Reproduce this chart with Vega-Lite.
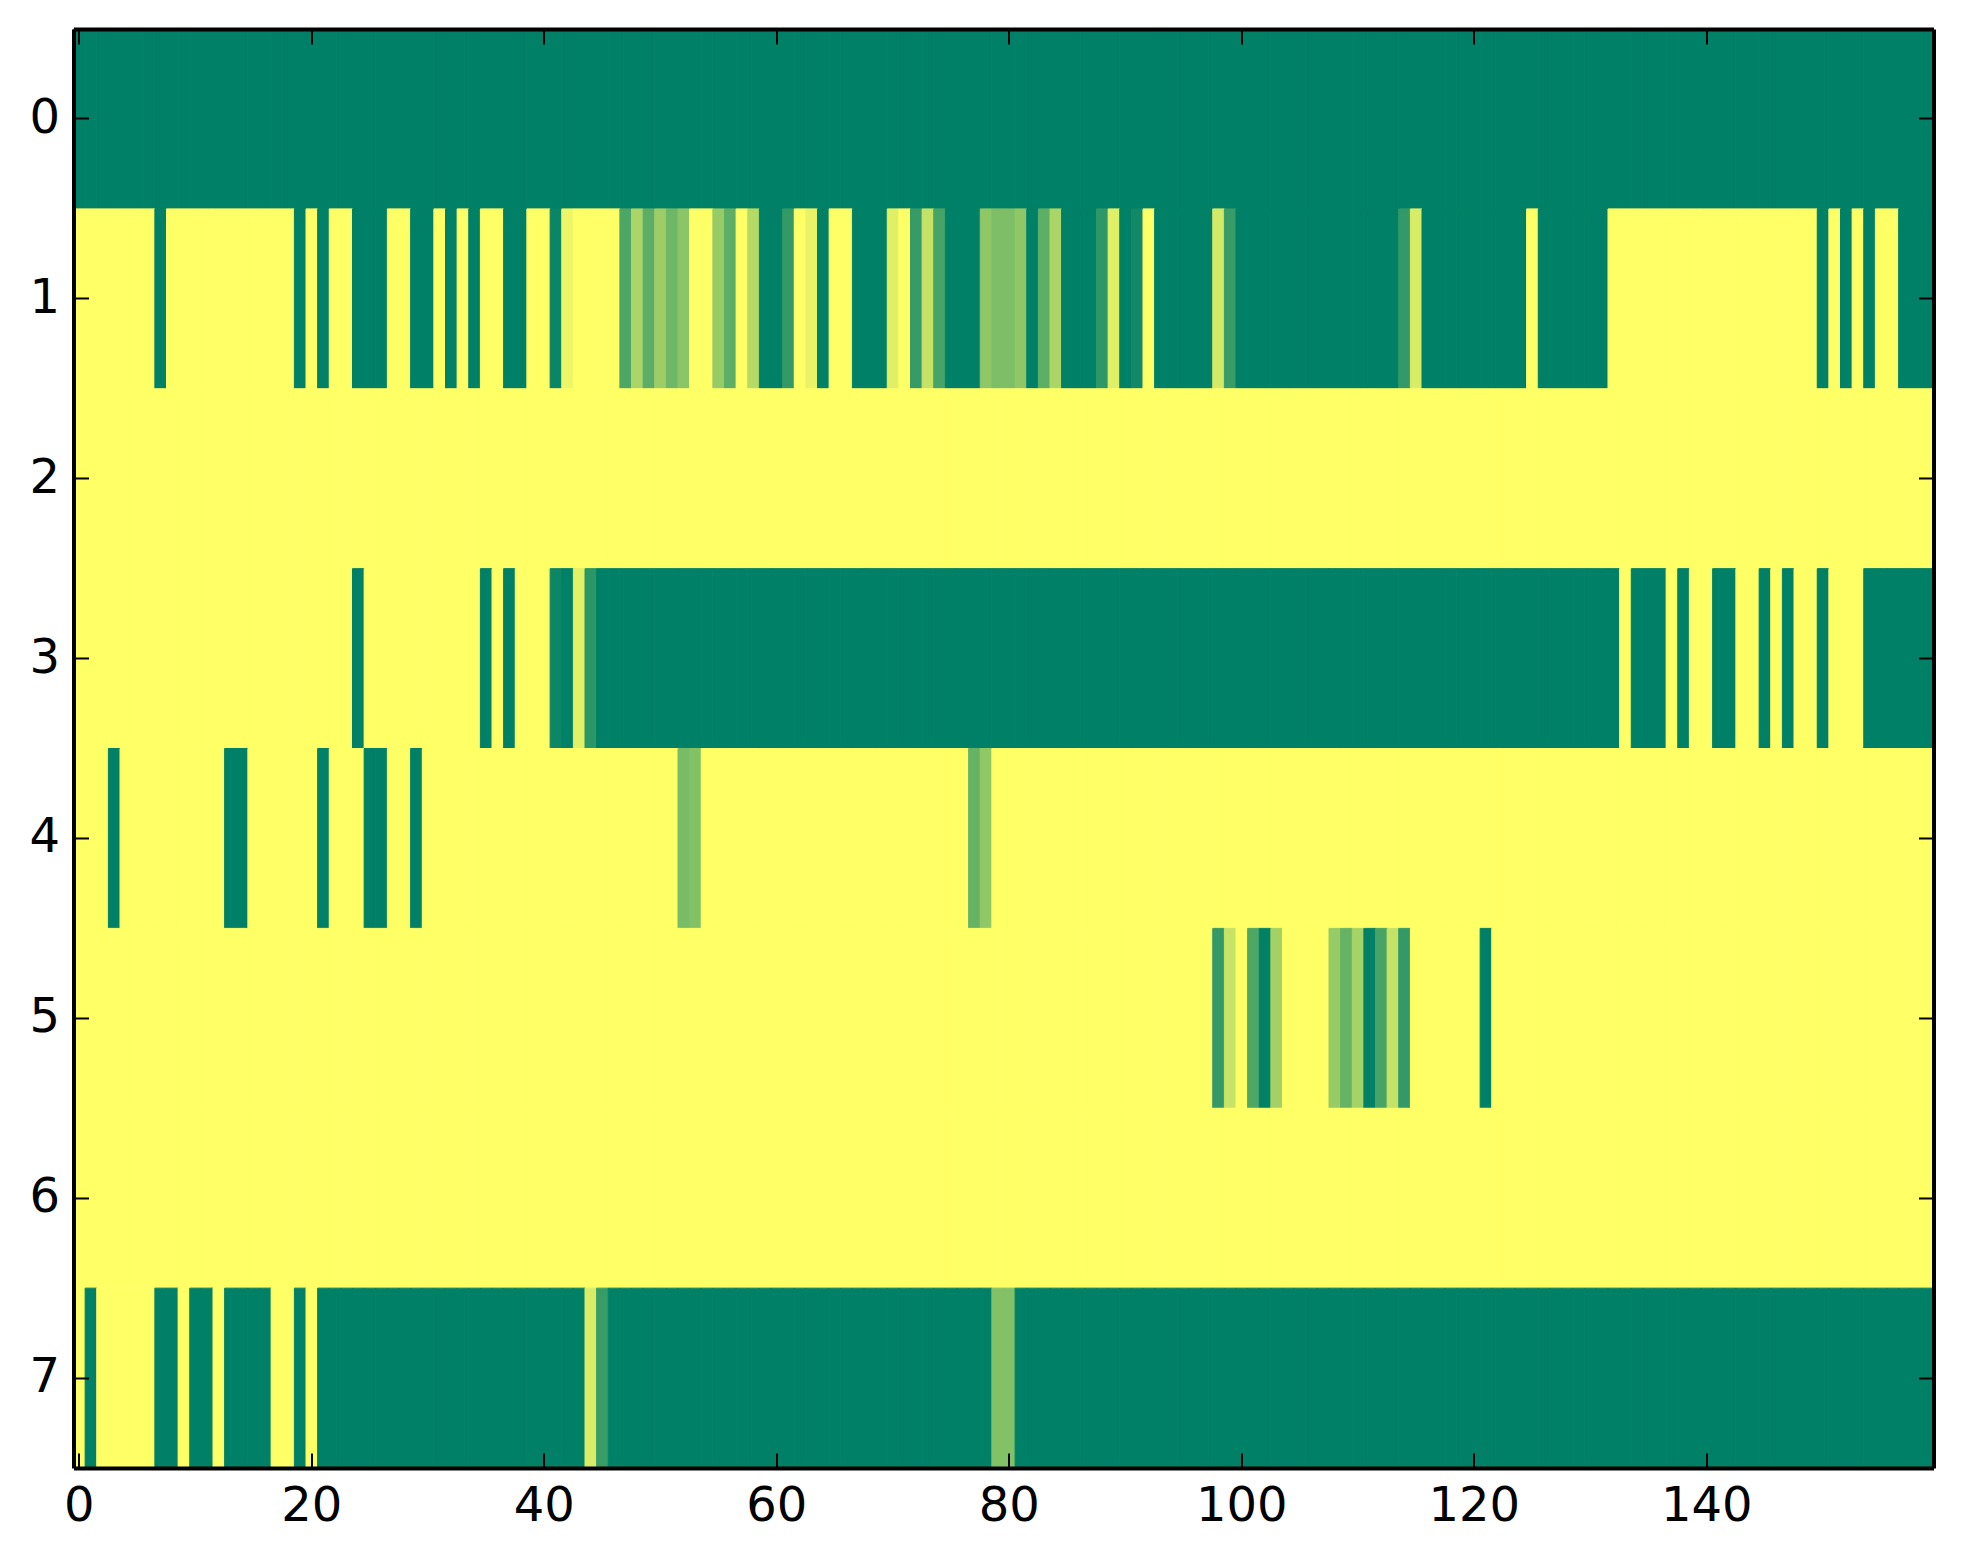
{
"$schema":"https://vega.github.io/schema/vega-lite/v6.json",
"width":1860,"height":1439,"background":"white",
"autosize":"none",
"padding":{"left":73.5,"top":29,"right":29.5,"bottom":96},
"data":{"values":[
{"x":0,"y":0,"v":1},{"x":1,"y":0,"v":1},{"x":2,"y":0,"v":1},{"x":3,"y":0,"v":1},{"x":4,"y":0,"v":1},{"x":5,"y":0,"v":1},{"x":6,"y":0,"v":1},{"x":7,"y":0,"v":1},{"x":8,"y":0,"v":1},{"x":9,"y":0,"v":1},
{"x":10,"y":0,"v":1},{"x":11,"y":0,"v":1},{"x":12,"y":0,"v":1},{"x":13,"y":0,"v":1},{"x":14,"y":0,"v":1},{"x":15,"y":0,"v":1},{"x":16,"y":0,"v":1},{"x":17,"y":0,"v":1},{"x":18,"y":0,"v":1},{"x":19,"y":0,"v":1},
{"x":20,"y":0,"v":1},{"x":21,"y":0,"v":1},{"x":22,"y":0,"v":1},{"x":23,"y":0,"v":1},{"x":24,"y":0,"v":1},{"x":25,"y":0,"v":1},{"x":26,"y":0,"v":1},{"x":27,"y":0,"v":1},{"x":28,"y":0,"v":1},{"x":29,"y":0,"v":1},
{"x":30,"y":0,"v":1},{"x":31,"y":0,"v":1},{"x":32,"y":0,"v":1},{"x":33,"y":0,"v":1},{"x":34,"y":0,"v":1},{"x":35,"y":0,"v":1},{"x":36,"y":0,"v":1},{"x":37,"y":0,"v":1},{"x":38,"y":0,"v":1},{"x":39,"y":0,"v":1},
{"x":40,"y":0,"v":1},{"x":41,"y":0,"v":1},{"x":42,"y":0,"v":1},{"x":43,"y":0,"v":1},{"x":44,"y":0,"v":1},{"x":45,"y":0,"v":1},{"x":46,"y":0,"v":1},{"x":47,"y":0,"v":1},{"x":48,"y":0,"v":1},{"x":49,"y":0,"v":1},
{"x":50,"y":0,"v":1},{"x":51,"y":0,"v":1},{"x":52,"y":0,"v":1},{"x":53,"y":0,"v":1},{"x":54,"y":0,"v":1},{"x":55,"y":0,"v":1},{"x":56,"y":0,"v":1},{"x":57,"y":0,"v":1},{"x":58,"y":0,"v":1},{"x":59,"y":0,"v":1},
{"x":60,"y":0,"v":1},{"x":61,"y":0,"v":1},{"x":62,"y":0,"v":1},{"x":63,"y":0,"v":1},{"x":64,"y":0,"v":1},{"x":65,"y":0,"v":1},{"x":66,"y":0,"v":1},{"x":67,"y":0,"v":1},{"x":68,"y":0,"v":1},{"x":69,"y":0,"v":1},
{"x":70,"y":0,"v":1},{"x":71,"y":0,"v":1},{"x":72,"y":0,"v":1},{"x":73,"y":0,"v":1},{"x":74,"y":0,"v":1},{"x":75,"y":0,"v":1},{"x":76,"y":0,"v":1},{"x":77,"y":0,"v":1},{"x":78,"y":0,"v":1},{"x":79,"y":0,"v":1},
{"x":80,"y":0,"v":1},{"x":81,"y":0,"v":1},{"x":82,"y":0,"v":1},{"x":83,"y":0,"v":1},{"x":84,"y":0,"v":1},{"x":85,"y":0,"v":1},{"x":86,"y":0,"v":1},{"x":87,"y":0,"v":1},{"x":88,"y":0,"v":1},{"x":89,"y":0,"v":1},
{"x":90,"y":0,"v":1},{"x":91,"y":0,"v":1},{"x":92,"y":0,"v":1},{"x":93,"y":0,"v":1},{"x":94,"y":0,"v":1},{"x":95,"y":0,"v":1},{"x":96,"y":0,"v":1},{"x":97,"y":0,"v":1},{"x":98,"y":0,"v":1},{"x":99,"y":0,"v":1},
{"x":100,"y":0,"v":1},{"x":101,"y":0,"v":1},{"x":102,"y":0,"v":1},{"x":103,"y":0,"v":1},{"x":104,"y":0,"v":1},{"x":105,"y":0,"v":1},{"x":106,"y":0,"v":1},{"x":107,"y":0,"v":1},{"x":108,"y":0,"v":1},{"x":109,"y":0,"v":1},
{"x":110,"y":0,"v":1},{"x":111,"y":0,"v":1},{"x":112,"y":0,"v":1},{"x":113,"y":0,"v":1},{"x":114,"y":0,"v":1},{"x":115,"y":0,"v":1},{"x":116,"y":0,"v":1},{"x":117,"y":0,"v":1},{"x":118,"y":0,"v":1},{"x":119,"y":0,"v":1},
{"x":120,"y":0,"v":1},{"x":121,"y":0,"v":1},{"x":122,"y":0,"v":1},{"x":123,"y":0,"v":1},{"x":124,"y":0,"v":1},{"x":125,"y":0,"v":1},{"x":126,"y":0,"v":1},{"x":127,"y":0,"v":1},{"x":128,"y":0,"v":1},{"x":129,"y":0,"v":1},
{"x":130,"y":0,"v":1},{"x":131,"y":0,"v":1},{"x":132,"y":0,"v":1},{"x":133,"y":0,"v":1},{"x":134,"y":0,"v":1},{"x":135,"y":0,"v":1},{"x":136,"y":0,"v":1},{"x":137,"y":0,"v":1},{"x":138,"y":0,"v":1},{"x":139,"y":0,"v":1},
{"x":140,"y":0,"v":1},{"x":141,"y":0,"v":1},{"x":142,"y":0,"v":1},{"x":143,"y":0,"v":1},{"x":144,"y":0,"v":1},{"x":145,"y":0,"v":1},{"x":146,"y":0,"v":1},{"x":147,"y":0,"v":1},{"x":148,"y":0,"v":1},{"x":149,"y":0,"v":1},
{"x":150,"y":0,"v":1},{"x":151,"y":0,"v":1},{"x":152,"y":0,"v":1},{"x":153,"y":0,"v":1},{"x":154,"y":0,"v":1},{"x":155,"y":0,"v":1},{"x":156,"y":0,"v":1},{"x":157,"y":0,"v":1},{"x":158,"y":0,"v":1},{"x":159,"y":0,"v":1},
{"x":0,"y":1,"v":0},{"x":1,"y":1,"v":0},{"x":2,"y":1,"v":0},{"x":3,"y":1,"v":0},{"x":4,"y":1,"v":0},{"x":5,"y":1,"v":0},{"x":6,"y":1,"v":0},{"x":7,"y":1,"v":1},{"x":8,"y":1,"v":0},{"x":9,"y":1,"v":0},
{"x":10,"y":1,"v":0},{"x":11,"y":1,"v":0},{"x":12,"y":1,"v":0},{"x":13,"y":1,"v":0},{"x":14,"y":1,"v":0},{"x":15,"y":1,"v":0},{"x":16,"y":1,"v":0},{"x":17,"y":1,"v":0},{"x":18,"y":1,"v":0},{"x":19,"y":1,"v":1},
{"x":20,"y":1,"v":0},{"x":21,"y":1,"v":1},{"x":22,"y":1,"v":0},{"x":23,"y":1,"v":0},{"x":24,"y":1,"v":1},{"x":25,"y":1,"v":1},{"x":26,"y":1,"v":1},{"x":27,"y":1,"v":0},{"x":28,"y":1,"v":0},{"x":29,"y":1,"v":1},
{"x":30,"y":1,"v":1},{"x":31,"y":1,"v":0},{"x":32,"y":1,"v":1},{"x":33,"y":1,"v":0},{"x":34,"y":1,"v":1},{"x":35,"y":1,"v":0},{"x":36,"y":1,"v":0},{"x":37,"y":1,"v":1},{"x":38,"y":1,"v":1},{"x":39,"y":1,"v":0},
{"x":40,"y":1,"v":0},{"x":41,"y":1,"v":0.96},{"x":42,"y":1,"v":0.07},{"x":43,"y":1,"v":0},{"x":44,"y":1,"v":0},{"x":45,"y":1,"v":0},{"x":46,"y":1,"v":0},{"x":47,"y":1,"v":0.7},{"x":48,"y":1,"v":0.33},{"x":49,"y":1,"v":0.64},
{"x":50,"y":1,"v":0.39},{"x":51,"y":1,"v":0.57},{"x":52,"y":1,"v":0.46},{"x":53,"y":1,"v":0},{"x":54,"y":1,"v":0},{"x":55,"y":1,"v":0.41},{"x":56,"y":1,"v":0.63},{"x":57,"y":1,"v":0},{"x":58,"y":1,"v":0.29},{"x":59,"y":1,"v":1},
{"x":60,"y":1,"v":1},{"x":61,"y":1,"v":0.8},{"x":62,"y":1,"v":0},{"x":63,"y":1,"v":0.09},{"x":64,"y":1,"v":1},{"x":65,"y":1,"v":0},{"x":66,"y":1,"v":0},{"x":67,"y":1,"v":1},{"x":68,"y":1,"v":1},{"x":69,"y":1,"v":1},
{"x":70,"y":1,"v":0.12},{"x":71,"y":1,"v":0},{"x":72,"y":1,"v":0.79},{"x":73,"y":1,"v":0.23},{"x":74,"y":1,"v":0.72},{"x":75,"y":1,"v":1},{"x":76,"y":1,"v":1},{"x":77,"y":1,"v":1},{"x":78,"y":1,"v":0.44},{"x":79,"y":1,"v":0.51},
{"x":80,"y":1,"v":0.51},{"x":81,"y":1,"v":0.44},{"x":82,"y":1,"v":1},{"x":83,"y":1,"v":0.63},{"x":84,"y":1,"v":0.33},{"x":85,"y":1,"v":1},{"x":86,"y":1,"v":1},{"x":87,"y":1,"v":1},{"x":88,"y":1,"v":0.82},{"x":89,"y":1,"v":0.12},
{"x":90,"y":1,"v":1},{"x":91,"y":1,"v":0.93},{"x":92,"y":1,"v":0},{"x":93,"y":1,"v":1},{"x":94,"y":1,"v":1},{"x":95,"y":1,"v":1},{"x":96,"y":1,"v":1},{"x":97,"y":1,"v":1},{"x":98,"y":1,"v":0.17},{"x":99,"y":1,"v":0.78},
{"x":100,"y":1,"v":1},{"x":101,"y":1,"v":1},{"x":102,"y":1,"v":1},{"x":103,"y":1,"v":1},{"x":104,"y":1,"v":1},{"x":105,"y":1,"v":1},{"x":106,"y":1,"v":1},{"x":107,"y":1,"v":1},{"x":108,"y":1,"v":1},{"x":109,"y":1,"v":1},
{"x":110,"y":1,"v":1},{"x":111,"y":1,"v":1},{"x":112,"y":1,"v":1},{"x":113,"y":1,"v":1},{"x":114,"y":1,"v":0.8},{"x":115,"y":1,"v":0.15},{"x":116,"y":1,"v":1},{"x":117,"y":1,"v":1},{"x":118,"y":1,"v":1},{"x":119,"y":1,"v":1},
{"x":120,"y":1,"v":1},{"x":121,"y":1,"v":1},{"x":122,"y":1,"v":1},{"x":123,"y":1,"v":1},{"x":124,"y":1,"v":1},{"x":125,"y":1,"v":0},{"x":126,"y":1,"v":1},{"x":127,"y":1,"v":1},{"x":128,"y":1,"v":1},{"x":129,"y":1,"v":1},
{"x":130,"y":1,"v":1},{"x":131,"y":1,"v":1},{"x":132,"y":1,"v":0},{"x":133,"y":1,"v":0},{"x":134,"y":1,"v":0},{"x":135,"y":1,"v":0},{"x":136,"y":1,"v":0},{"x":137,"y":1,"v":0},{"x":138,"y":1,"v":0},{"x":139,"y":1,"v":0},
{"x":140,"y":1,"v":0},{"x":141,"y":1,"v":0},{"x":142,"y":1,"v":0},{"x":143,"y":1,"v":0},{"x":144,"y":1,"v":0},{"x":145,"y":1,"v":0},{"x":146,"y":1,"v":0},{"x":147,"y":1,"v":0},{"x":148,"y":1,"v":0},{"x":149,"y":1,"v":0},
{"x":150,"y":1,"v":1},{"x":151,"y":1,"v":0},{"x":152,"y":1,"v":1},{"x":153,"y":1,"v":0},{"x":154,"y":1,"v":1},{"x":155,"y":1,"v":0},{"x":156,"y":1,"v":0},{"x":157,"y":1,"v":1},{"x":158,"y":1,"v":1},{"x":159,"y":1,"v":1},
{"x":0,"y":2,"v":0},{"x":1,"y":2,"v":0},{"x":2,"y":2,"v":0},{"x":3,"y":2,"v":0},{"x":4,"y":2,"v":0},{"x":5,"y":2,"v":0},{"x":6,"y":2,"v":0},{"x":7,"y":2,"v":0},{"x":8,"y":2,"v":0},{"x":9,"y":2,"v":0},
{"x":10,"y":2,"v":0},{"x":11,"y":2,"v":0},{"x":12,"y":2,"v":0},{"x":13,"y":2,"v":0},{"x":14,"y":2,"v":0},{"x":15,"y":2,"v":0},{"x":16,"y":2,"v":0},{"x":17,"y":2,"v":0},{"x":18,"y":2,"v":0},{"x":19,"y":2,"v":0},
{"x":20,"y":2,"v":0},{"x":21,"y":2,"v":0},{"x":22,"y":2,"v":0},{"x":23,"y":2,"v":0},{"x":24,"y":2,"v":0},{"x":25,"y":2,"v":0},{"x":26,"y":2,"v":0},{"x":27,"y":2,"v":0},{"x":28,"y":2,"v":0},{"x":29,"y":2,"v":0},
{"x":30,"y":2,"v":0},{"x":31,"y":2,"v":0},{"x":32,"y":2,"v":0},{"x":33,"y":2,"v":0},{"x":34,"y":2,"v":0},{"x":35,"y":2,"v":0},{"x":36,"y":2,"v":0},{"x":37,"y":2,"v":0},{"x":38,"y":2,"v":0},{"x":39,"y":2,"v":0},
{"x":40,"y":2,"v":0},{"x":41,"y":2,"v":0},{"x":42,"y":2,"v":0},{"x":43,"y":2,"v":0},{"x":44,"y":2,"v":0},{"x":45,"y":2,"v":0},{"x":46,"y":2,"v":0},{"x":47,"y":2,"v":0},{"x":48,"y":2,"v":0},{"x":49,"y":2,"v":0},
{"x":50,"y":2,"v":0},{"x":51,"y":2,"v":0},{"x":52,"y":2,"v":0},{"x":53,"y":2,"v":0},{"x":54,"y":2,"v":0},{"x":55,"y":2,"v":0},{"x":56,"y":2,"v":0},{"x":57,"y":2,"v":0},{"x":58,"y":2,"v":0},{"x":59,"y":2,"v":0},
{"x":60,"y":2,"v":0},{"x":61,"y":2,"v":0},{"x":62,"y":2,"v":0},{"x":63,"y":2,"v":0},{"x":64,"y":2,"v":0},{"x":65,"y":2,"v":0},{"x":66,"y":2,"v":0},{"x":67,"y":2,"v":0},{"x":68,"y":2,"v":0},{"x":69,"y":2,"v":0},
{"x":70,"y":2,"v":0},{"x":71,"y":2,"v":0},{"x":72,"y":2,"v":0},{"x":73,"y":2,"v":0},{"x":74,"y":2,"v":0},{"x":75,"y":2,"v":0},{"x":76,"y":2,"v":0},{"x":77,"y":2,"v":0},{"x":78,"y":2,"v":0},{"x":79,"y":2,"v":0},
{"x":80,"y":2,"v":0},{"x":81,"y":2,"v":0},{"x":82,"y":2,"v":0},{"x":83,"y":2,"v":0},{"x":84,"y":2,"v":0},{"x":85,"y":2,"v":0},{"x":86,"y":2,"v":0},{"x":87,"y":2,"v":0},{"x":88,"y":2,"v":0},{"x":89,"y":2,"v":0},
{"x":90,"y":2,"v":0},{"x":91,"y":2,"v":0},{"x":92,"y":2,"v":0},{"x":93,"y":2,"v":0},{"x":94,"y":2,"v":0},{"x":95,"y":2,"v":0},{"x":96,"y":2,"v":0},{"x":97,"y":2,"v":0},{"x":98,"y":2,"v":0},{"x":99,"y":2,"v":0},
{"x":100,"y":2,"v":0},{"x":101,"y":2,"v":0},{"x":102,"y":2,"v":0},{"x":103,"y":2,"v":0},{"x":104,"y":2,"v":0},{"x":105,"y":2,"v":0},{"x":106,"y":2,"v":0},{"x":107,"y":2,"v":0},{"x":108,"y":2,"v":0},{"x":109,"y":2,"v":0},
{"x":110,"y":2,"v":0},{"x":111,"y":2,"v":0},{"x":112,"y":2,"v":0},{"x":113,"y":2,"v":0},{"x":114,"y":2,"v":0},{"x":115,"y":2,"v":0},{"x":116,"y":2,"v":0},{"x":117,"y":2,"v":0},{"x":118,"y":2,"v":0},{"x":119,"y":2,"v":0},
{"x":120,"y":2,"v":0},{"x":121,"y":2,"v":0},{"x":122,"y":2,"v":0},{"x":123,"y":2,"v":0},{"x":124,"y":2,"v":0},{"x":125,"y":2,"v":0},{"x":126,"y":2,"v":0},{"x":127,"y":2,"v":0},{"x":128,"y":2,"v":0},{"x":129,"y":2,"v":0},
{"x":130,"y":2,"v":0},{"x":131,"y":2,"v":0},{"x":132,"y":2,"v":0},{"x":133,"y":2,"v":0},{"x":134,"y":2,"v":0},{"x":135,"y":2,"v":0},{"x":136,"y":2,"v":0},{"x":137,"y":2,"v":0},{"x":138,"y":2,"v":0},{"x":139,"y":2,"v":0},
{"x":140,"y":2,"v":0},{"x":141,"y":2,"v":0},{"x":142,"y":2,"v":0},{"x":143,"y":2,"v":0},{"x":144,"y":2,"v":0},{"x":145,"y":2,"v":0},{"x":146,"y":2,"v":0},{"x":147,"y":2,"v":0},{"x":148,"y":2,"v":0},{"x":149,"y":2,"v":0},
{"x":150,"y":2,"v":0},{"x":151,"y":2,"v":0},{"x":152,"y":2,"v":0},{"x":153,"y":2,"v":0},{"x":154,"y":2,"v":0},{"x":155,"y":2,"v":0},{"x":156,"y":2,"v":0},{"x":157,"y":2,"v":0},{"x":158,"y":2,"v":0},{"x":159,"y":2,"v":0},
{"x":0,"y":3,"v":0},{"x":1,"y":3,"v":0},{"x":2,"y":3,"v":0},{"x":3,"y":3,"v":0},{"x":4,"y":3,"v":0},{"x":5,"y":3,"v":0},{"x":6,"y":3,"v":0},{"x":7,"y":3,"v":0},{"x":8,"y":3,"v":0},{"x":9,"y":3,"v":0},
{"x":10,"y":3,"v":0},{"x":11,"y":3,"v":0},{"x":12,"y":3,"v":0},{"x":13,"y":3,"v":0},{"x":14,"y":3,"v":0},{"x":15,"y":3,"v":0},{"x":16,"y":3,"v":0},{"x":17,"y":3,"v":0},{"x":18,"y":3,"v":0},{"x":19,"y":3,"v":0},
{"x":20,"y":3,"v":0},{"x":21,"y":3,"v":0},{"x":22,"y":3,"v":0},{"x":23,"y":3,"v":0},{"x":24,"y":3,"v":1},{"x":25,"y":3,"v":0},{"x":26,"y":3,"v":0},{"x":27,"y":3,"v":0},{"x":28,"y":3,"v":0},{"x":29,"y":3,"v":0},
{"x":30,"y":3,"v":0},{"x":31,"y":3,"v":0},{"x":32,"y":3,"v":0},{"x":33,"y":3,"v":0},{"x":34,"y":3,"v":0},{"x":35,"y":3,"v":1},{"x":36,"y":3,"v":0},{"x":37,"y":3,"v":1},{"x":38,"y":3,"v":0},{"x":39,"y":3,"v":0},
{"x":40,"y":3,"v":0},{"x":41,"y":3,"v":0.95},{"x":42,"y":3,"v":1},{"x":43,"y":3,"v":0.11},{"x":44,"y":3,"v":0.83},{"x":45,"y":3,"v":1},{"x":46,"y":3,"v":1},{"x":47,"y":3,"v":1},{"x":48,"y":3,"v":1},{"x":49,"y":3,"v":1},
{"x":50,"y":3,"v":1},{"x":51,"y":3,"v":1},{"x":52,"y":3,"v":1},{"x":53,"y":3,"v":1},{"x":54,"y":3,"v":1},{"x":55,"y":3,"v":1},{"x":56,"y":3,"v":1},{"x":57,"y":3,"v":1},{"x":58,"y":3,"v":1},{"x":59,"y":3,"v":1},
{"x":60,"y":3,"v":1},{"x":61,"y":3,"v":1},{"x":62,"y":3,"v":1},{"x":63,"y":3,"v":1},{"x":64,"y":3,"v":1},{"x":65,"y":3,"v":1},{"x":66,"y":3,"v":1},{"x":67,"y":3,"v":1},{"x":68,"y":3,"v":1},{"x":69,"y":3,"v":1},
{"x":70,"y":3,"v":1},{"x":71,"y":3,"v":1},{"x":72,"y":3,"v":1},{"x":73,"y":3,"v":1},{"x":74,"y":3,"v":1},{"x":75,"y":3,"v":1},{"x":76,"y":3,"v":1},{"x":77,"y":3,"v":1},{"x":78,"y":3,"v":1},{"x":79,"y":3,"v":1},
{"x":80,"y":3,"v":1},{"x":81,"y":3,"v":1},{"x":82,"y":3,"v":1},{"x":83,"y":3,"v":1},{"x":84,"y":3,"v":1},{"x":85,"y":3,"v":1},{"x":86,"y":3,"v":1},{"x":87,"y":3,"v":1},{"x":88,"y":3,"v":1},{"x":89,"y":3,"v":1},
{"x":90,"y":3,"v":1},{"x":91,"y":3,"v":1},{"x":92,"y":3,"v":1},{"x":93,"y":3,"v":1},{"x":94,"y":3,"v":1},{"x":95,"y":3,"v":1},{"x":96,"y":3,"v":1},{"x":97,"y":3,"v":1},{"x":98,"y":3,"v":1},{"x":99,"y":3,"v":1},
{"x":100,"y":3,"v":1},{"x":101,"y":3,"v":1},{"x":102,"y":3,"v":1},{"x":103,"y":3,"v":1},{"x":104,"y":3,"v":1},{"x":105,"y":3,"v":1},{"x":106,"y":3,"v":1},{"x":107,"y":3,"v":1},{"x":108,"y":3,"v":1},{"x":109,"y":3,"v":1},
{"x":110,"y":3,"v":1},{"x":111,"y":3,"v":1},{"x":112,"y":3,"v":1},{"x":113,"y":3,"v":1},{"x":114,"y":3,"v":1},{"x":115,"y":3,"v":1},{"x":116,"y":3,"v":1},{"x":117,"y":3,"v":1},{"x":118,"y":3,"v":1},{"x":119,"y":3,"v":1},
{"x":120,"y":3,"v":1},{"x":121,"y":3,"v":1},{"x":122,"y":3,"v":1},{"x":123,"y":3,"v":1},{"x":124,"y":3,"v":1},{"x":125,"y":3,"v":1},{"x":126,"y":3,"v":1},{"x":127,"y":3,"v":1},{"x":128,"y":3,"v":1},{"x":129,"y":3,"v":1},
{"x":130,"y":3,"v":1},{"x":131,"y":3,"v":1},{"x":132,"y":3,"v":1},{"x":133,"y":3,"v":0},{"x":134,"y":3,"v":1},{"x":135,"y":3,"v":1},{"x":136,"y":3,"v":1},{"x":137,"y":3,"v":0},{"x":138,"y":3,"v":1},{"x":139,"y":3,"v":0},
{"x":140,"y":3,"v":0},{"x":141,"y":3,"v":1},{"x":142,"y":3,"v":1},{"x":143,"y":3,"v":0},{"x":144,"y":3,"v":0},{"x":145,"y":3,"v":1},{"x":146,"y":3,"v":0},{"x":147,"y":3,"v":1},{"x":148,"y":3,"v":0},{"x":149,"y":3,"v":0},
{"x":150,"y":3,"v":1},{"x":151,"y":3,"v":0},{"x":152,"y":3,"v":0},{"x":153,"y":3,"v":0},{"x":154,"y":3,"v":1},{"x":155,"y":3,"v":1},{"x":156,"y":3,"v":1},{"x":157,"y":3,"v":1},{"x":158,"y":3,"v":1},{"x":159,"y":3,"v":1},
{"x":0,"y":4,"v":0},{"x":1,"y":4,"v":0},{"x":2,"y":4,"v":0},{"x":3,"y":4,"v":1},{"x":4,"y":4,"v":0},{"x":5,"y":4,"v":0},{"x":6,"y":4,"v":0},{"x":7,"y":4,"v":0},{"x":8,"y":4,"v":0},{"x":9,"y":4,"v":0},
{"x":10,"y":4,"v":0},{"x":11,"y":4,"v":0},{"x":12,"y":4,"v":0},{"x":13,"y":4,"v":1},{"x":14,"y":4,"v":1},{"x":15,"y":4,"v":0},{"x":16,"y":4,"v":0},{"x":17,"y":4,"v":0},{"x":18,"y":4,"v":0},{"x":19,"y":4,"v":0},
{"x":20,"y":4,"v":0},{"x":21,"y":4,"v":1},{"x":22,"y":4,"v":0},{"x":23,"y":4,"v":0},{"x":24,"y":4,"v":0},{"x":25,"y":4,"v":1},{"x":26,"y":4,"v":1},{"x":27,"y":4,"v":0},{"x":28,"y":4,"v":0},{"x":29,"y":4,"v":1},
{"x":30,"y":4,"v":0},{"x":31,"y":4,"v":0},{"x":32,"y":4,"v":0},{"x":33,"y":4,"v":0},{"x":34,"y":4,"v":0},{"x":35,"y":4,"v":0},{"x":36,"y":4,"v":0},{"x":37,"y":4,"v":0},{"x":38,"y":4,"v":0},{"x":39,"y":4,"v":0},
{"x":40,"y":4,"v":0},{"x":41,"y":4,"v":0},{"x":42,"y":4,"v":0},{"x":43,"y":4,"v":0},{"x":44,"y":4,"v":0},{"x":45,"y":4,"v":0},{"x":46,"y":4,"v":0},{"x":47,"y":4,"v":0},{"x":48,"y":4,"v":0},{"x":49,"y":4,"v":0},
{"x":50,"y":4,"v":0},{"x":51,"y":4,"v":0},{"x":52,"y":4,"v":0.53},{"x":53,"y":4,"v":0.49},{"x":54,"y":4,"v":0},{"x":55,"y":4,"v":0},{"x":56,"y":4,"v":0},{"x":57,"y":4,"v":0},{"x":58,"y":4,"v":0},{"x":59,"y":4,"v":0},
{"x":60,"y":4,"v":0},{"x":61,"y":4,"v":0},{"x":62,"y":4,"v":0},{"x":63,"y":4,"v":0},{"x":64,"y":4,"v":0},{"x":65,"y":4,"v":0},{"x":66,"y":4,"v":0},{"x":67,"y":4,"v":0},{"x":68,"y":4,"v":0},{"x":69,"y":4,"v":0},
{"x":70,"y":4,"v":0},{"x":71,"y":4,"v":0},{"x":72,"y":4,"v":0},{"x":73,"y":4,"v":0},{"x":74,"y":4,"v":0},{"x":75,"y":4,"v":0},{"x":76,"y":4,"v":0},{"x":77,"y":4,"v":0.6},{"x":78,"y":4,"v":0.43},{"x":79,"y":4,"v":0},
{"x":80,"y":4,"v":0},{"x":81,"y":4,"v":0},{"x":82,"y":4,"v":0},{"x":83,"y":4,"v":0},{"x":84,"y":4,"v":0},{"x":85,"y":4,"v":0},{"x":86,"y":4,"v":0},{"x":87,"y":4,"v":0},{"x":88,"y":4,"v":0},{"x":89,"y":4,"v":0},
{"x":90,"y":4,"v":0},{"x":91,"y":4,"v":0},{"x":92,"y":4,"v":0},{"x":93,"y":4,"v":0},{"x":94,"y":4,"v":0},{"x":95,"y":4,"v":0},{"x":96,"y":4,"v":0},{"x":97,"y":4,"v":0},{"x":98,"y":4,"v":0},{"x":99,"y":4,"v":0},
{"x":100,"y":4,"v":0},{"x":101,"y":4,"v":0},{"x":102,"y":4,"v":0},{"x":103,"y":4,"v":0},{"x":104,"y":4,"v":0},{"x":105,"y":4,"v":0},{"x":106,"y":4,"v":0},{"x":107,"y":4,"v":0},{"x":108,"y":4,"v":0},{"x":109,"y":4,"v":0},
{"x":110,"y":4,"v":0},{"x":111,"y":4,"v":0},{"x":112,"y":4,"v":0},{"x":113,"y":4,"v":0},{"x":114,"y":4,"v":0},{"x":115,"y":4,"v":0},{"x":116,"y":4,"v":0},{"x":117,"y":4,"v":0},{"x":118,"y":4,"v":0},{"x":119,"y":4,"v":0},
{"x":120,"y":4,"v":0},{"x":121,"y":4,"v":0},{"x":122,"y":4,"v":0},{"x":123,"y":4,"v":0},{"x":124,"y":4,"v":0},{"x":125,"y":4,"v":0},{"x":126,"y":4,"v":0},{"x":127,"y":4,"v":0},{"x":128,"y":4,"v":0},{"x":129,"y":4,"v":0},
{"x":130,"y":4,"v":0},{"x":131,"y":4,"v":0},{"x":132,"y":4,"v":0},{"x":133,"y":4,"v":0},{"x":134,"y":4,"v":0},{"x":135,"y":4,"v":0},{"x":136,"y":4,"v":0},{"x":137,"y":4,"v":0},{"x":138,"y":4,"v":0},{"x":139,"y":4,"v":0},
{"x":140,"y":4,"v":0},{"x":141,"y":4,"v":0},{"x":142,"y":4,"v":0},{"x":143,"y":4,"v":0},{"x":144,"y":4,"v":0},{"x":145,"y":4,"v":0},{"x":146,"y":4,"v":0},{"x":147,"y":4,"v":0},{"x":148,"y":4,"v":0},{"x":149,"y":4,"v":0},
{"x":150,"y":4,"v":0},{"x":151,"y":4,"v":0},{"x":152,"y":4,"v":0},{"x":153,"y":4,"v":0},{"x":154,"y":4,"v":0},{"x":155,"y":4,"v":0},{"x":156,"y":4,"v":0},{"x":157,"y":4,"v":0},{"x":158,"y":4,"v":0},{"x":159,"y":4,"v":0},
{"x":0,"y":5,"v":0},{"x":1,"y":5,"v":0},{"x":2,"y":5,"v":0},{"x":3,"y":5,"v":0},{"x":4,"y":5,"v":0},{"x":5,"y":5,"v":0},{"x":6,"y":5,"v":0},{"x":7,"y":5,"v":0},{"x":8,"y":5,"v":0},{"x":9,"y":5,"v":0},
{"x":10,"y":5,"v":0},{"x":11,"y":5,"v":0},{"x":12,"y":5,"v":0},{"x":13,"y":5,"v":0},{"x":14,"y":5,"v":0},{"x":15,"y":5,"v":0},{"x":16,"y":5,"v":0},{"x":17,"y":5,"v":0},{"x":18,"y":5,"v":0},{"x":19,"y":5,"v":0},
{"x":20,"y":5,"v":0},{"x":21,"y":5,"v":0},{"x":22,"y":5,"v":0},{"x":23,"y":5,"v":0},{"x":24,"y":5,"v":0},{"x":25,"y":5,"v":0},{"x":26,"y":5,"v":0},{"x":27,"y":5,"v":0},{"x":28,"y":5,"v":0},{"x":29,"y":5,"v":0},
{"x":30,"y":5,"v":0},{"x":31,"y":5,"v":0},{"x":32,"y":5,"v":0},{"x":33,"y":5,"v":0},{"x":34,"y":5,"v":0},{"x":35,"y":5,"v":0},{"x":36,"y":5,"v":0},{"x":37,"y":5,"v":0},{"x":38,"y":5,"v":0},{"x":39,"y":5,"v":0},
{"x":40,"y":5,"v":0},{"x":41,"y":5,"v":0},{"x":42,"y":5,"v":0},{"x":43,"y":5,"v":0},{"x":44,"y":5,"v":0},{"x":45,"y":5,"v":0},{"x":46,"y":5,"v":0},{"x":47,"y":5,"v":0},{"x":48,"y":5,"v":0},{"x":49,"y":5,"v":0},
{"x":50,"y":5,"v":0},{"x":51,"y":5,"v":0},{"x":52,"y":5,"v":0},{"x":53,"y":5,"v":0},{"x":54,"y":5,"v":0},{"x":55,"y":5,"v":0},{"x":56,"y":5,"v":0},{"x":57,"y":5,"v":0},{"x":58,"y":5,"v":0},{"x":59,"y":5,"v":0},
{"x":60,"y":5,"v":0},{"x":61,"y":5,"v":0},{"x":62,"y":5,"v":0},{"x":63,"y":5,"v":0},{"x":64,"y":5,"v":0},{"x":65,"y":5,"v":0},{"x":66,"y":5,"v":0},{"x":67,"y":5,"v":0},{"x":68,"y":5,"v":0},{"x":69,"y":5,"v":0},
{"x":70,"y":5,"v":0},{"x":71,"y":5,"v":0},{"x":72,"y":5,"v":0},{"x":73,"y":5,"v":0},{"x":74,"y":5,"v":0},{"x":75,"y":5,"v":0},{"x":76,"y":5,"v":0},{"x":77,"y":5,"v":0},{"x":78,"y":5,"v":0},{"x":79,"y":5,"v":0},
{"x":80,"y":5,"v":0},{"x":81,"y":5,"v":0},{"x":82,"y":5,"v":0},{"x":83,"y":5,"v":0},{"x":84,"y":5,"v":0},{"x":85,"y":5,"v":0},{"x":86,"y":5,"v":0},{"x":87,"y":5,"v":0},{"x":88,"y":5,"v":0},{"x":89,"y":5,"v":0},
{"x":90,"y":5,"v":0},{"x":91,"y":5,"v":0},{"x":92,"y":5,"v":0},{"x":93,"y":5,"v":0},{"x":94,"y":5,"v":0},{"x":95,"y":5,"v":0},{"x":96,"y":5,"v":0},{"x":97,"y":5,"v":0},{"x":98,"y":5,"v":0.8},{"x":99,"y":5,"v":0.22},
{"x":100,"y":5,"v":0},{"x":101,"y":5,"v":0.69},{"x":102,"y":5,"v":0.99},{"x":103,"y":5,"v":0.36},{"x":104,"y":5,"v":0},{"x":105,"y":5,"v":0},{"x":106,"y":5,"v":0},{"x":107,"y":5,"v":0},{"x":108,"y":5,"v":0.41},{"x":109,"y":5,"v":0.6},
{"x":110,"y":5,"v":0.35},{"x":111,"y":5,"v":0.99},{"x":112,"y":5,"v":0.72},{"x":113,"y":5,"v":0.23},{"x":114,"y":5,"v":0.8},{"x":115,"y":5,"v":0},{"x":116,"y":5,"v":0},{"x":117,"y":5,"v":0},{"x":118,"y":5,"v":0},{"x":119,"y":5,"v":0},
{"x":120,"y":5,"v":0},{"x":121,"y":5,"v":1},{"x":122,"y":5,"v":0},{"x":123,"y":5,"v":0},{"x":124,"y":5,"v":0},{"x":125,"y":5,"v":0},{"x":126,"y":5,"v":0},{"x":127,"y":5,"v":0},{"x":128,"y":5,"v":0},{"x":129,"y":5,"v":0},
{"x":130,"y":5,"v":0},{"x":131,"y":5,"v":0},{"x":132,"y":5,"v":0},{"x":133,"y":5,"v":0},{"x":134,"y":5,"v":0},{"x":135,"y":5,"v":0},{"x":136,"y":5,"v":0},{"x":137,"y":5,"v":0},{"x":138,"y":5,"v":0},{"x":139,"y":5,"v":0},
{"x":140,"y":5,"v":0},{"x":141,"y":5,"v":0},{"x":142,"y":5,"v":0},{"x":143,"y":5,"v":0},{"x":144,"y":5,"v":0},{"x":145,"y":5,"v":0},{"x":146,"y":5,"v":0},{"x":147,"y":5,"v":0},{"x":148,"y":5,"v":0},{"x":149,"y":5,"v":0},
{"x":150,"y":5,"v":0},{"x":151,"y":5,"v":0},{"x":152,"y":5,"v":0},{"x":153,"y":5,"v":0},{"x":154,"y":5,"v":0},{"x":155,"y":5,"v":0},{"x":156,"y":5,"v":0},{"x":157,"y":5,"v":0},{"x":158,"y":5,"v":0},{"x":159,"y":5,"v":0},
{"x":0,"y":6,"v":0},{"x":1,"y":6,"v":0},{"x":2,"y":6,"v":0},{"x":3,"y":6,"v":0},{"x":4,"y":6,"v":0},{"x":5,"y":6,"v":0},{"x":6,"y":6,"v":0},{"x":7,"y":6,"v":0},{"x":8,"y":6,"v":0},{"x":9,"y":6,"v":0},
{"x":10,"y":6,"v":0},{"x":11,"y":6,"v":0},{"x":12,"y":6,"v":0},{"x":13,"y":6,"v":0},{"x":14,"y":6,"v":0},{"x":15,"y":6,"v":0},{"x":16,"y":6,"v":0},{"x":17,"y":6,"v":0},{"x":18,"y":6,"v":0},{"x":19,"y":6,"v":0},
{"x":20,"y":6,"v":0},{"x":21,"y":6,"v":0},{"x":22,"y":6,"v":0},{"x":23,"y":6,"v":0},{"x":24,"y":6,"v":0},{"x":25,"y":6,"v":0},{"x":26,"y":6,"v":0},{"x":27,"y":6,"v":0},{"x":28,"y":6,"v":0},{"x":29,"y":6,"v":0},
{"x":30,"y":6,"v":0},{"x":31,"y":6,"v":0},{"x":32,"y":6,"v":0},{"x":33,"y":6,"v":0},{"x":34,"y":6,"v":0},{"x":35,"y":6,"v":0},{"x":36,"y":6,"v":0},{"x":37,"y":6,"v":0},{"x":38,"y":6,"v":0},{"x":39,"y":6,"v":0},
{"x":40,"y":6,"v":0},{"x":41,"y":6,"v":0},{"x":42,"y":6,"v":0},{"x":43,"y":6,"v":0},{"x":44,"y":6,"v":0},{"x":45,"y":6,"v":0},{"x":46,"y":6,"v":0},{"x":47,"y":6,"v":0},{"x":48,"y":6,"v":0},{"x":49,"y":6,"v":0},
{"x":50,"y":6,"v":0},{"x":51,"y":6,"v":0},{"x":52,"y":6,"v":0},{"x":53,"y":6,"v":0},{"x":54,"y":6,"v":0},{"x":55,"y":6,"v":0},{"x":56,"y":6,"v":0},{"x":57,"y":6,"v":0},{"x":58,"y":6,"v":0},{"x":59,"y":6,"v":0},
{"x":60,"y":6,"v":0},{"x":61,"y":6,"v":0},{"x":62,"y":6,"v":0},{"x":63,"y":6,"v":0},{"x":64,"y":6,"v":0},{"x":65,"y":6,"v":0},{"x":66,"y":6,"v":0},{"x":67,"y":6,"v":0},{"x":68,"y":6,"v":0},{"x":69,"y":6,"v":0},
{"x":70,"y":6,"v":0},{"x":71,"y":6,"v":0},{"x":72,"y":6,"v":0},{"x":73,"y":6,"v":0},{"x":74,"y":6,"v":0},{"x":75,"y":6,"v":0},{"x":76,"y":6,"v":0},{"x":77,"y":6,"v":0},{"x":78,"y":6,"v":0},{"x":79,"y":6,"v":0},
{"x":80,"y":6,"v":0},{"x":81,"y":6,"v":0},{"x":82,"y":6,"v":0},{"x":83,"y":6,"v":0},{"x":84,"y":6,"v":0},{"x":85,"y":6,"v":0},{"x":86,"y":6,"v":0},{"x":87,"y":6,"v":0},{"x":88,"y":6,"v":0},{"x":89,"y":6,"v":0},
{"x":90,"y":6,"v":0},{"x":91,"y":6,"v":0},{"x":92,"y":6,"v":0},{"x":93,"y":6,"v":0},{"x":94,"y":6,"v":0},{"x":95,"y":6,"v":0},{"x":96,"y":6,"v":0},{"x":97,"y":6,"v":0},{"x":98,"y":6,"v":0},{"x":99,"y":6,"v":0},
{"x":100,"y":6,"v":0},{"x":101,"y":6,"v":0},{"x":102,"y":6,"v":0},{"x":103,"y":6,"v":0},{"x":104,"y":6,"v":0},{"x":105,"y":6,"v":0},{"x":106,"y":6,"v":0},{"x":107,"y":6,"v":0},{"x":108,"y":6,"v":0},{"x":109,"y":6,"v":0},
{"x":110,"y":6,"v":0},{"x":111,"y":6,"v":0},{"x":112,"y":6,"v":0},{"x":113,"y":6,"v":0},{"x":114,"y":6,"v":0},{"x":115,"y":6,"v":0},{"x":116,"y":6,"v":0},{"x":117,"y":6,"v":0},{"x":118,"y":6,"v":0},{"x":119,"y":6,"v":0},
{"x":120,"y":6,"v":0},{"x":121,"y":6,"v":0},{"x":122,"y":6,"v":0},{"x":123,"y":6,"v":0},{"x":124,"y":6,"v":0},{"x":125,"y":6,"v":0},{"x":126,"y":6,"v":0},{"x":127,"y":6,"v":0},{"x":128,"y":6,"v":0},{"x":129,"y":6,"v":0},
{"x":130,"y":6,"v":0},{"x":131,"y":6,"v":0},{"x":132,"y":6,"v":0},{"x":133,"y":6,"v":0},{"x":134,"y":6,"v":0},{"x":135,"y":6,"v":0},{"x":136,"y":6,"v":0},{"x":137,"y":6,"v":0},{"x":138,"y":6,"v":0},{"x":139,"y":6,"v":0},
{"x":140,"y":6,"v":0},{"x":141,"y":6,"v":0},{"x":142,"y":6,"v":0},{"x":143,"y":6,"v":0},{"x":144,"y":6,"v":0},{"x":145,"y":6,"v":0},{"x":146,"y":6,"v":0},{"x":147,"y":6,"v":0},{"x":148,"y":6,"v":0},{"x":149,"y":6,"v":0},
{"x":150,"y":6,"v":0},{"x":151,"y":6,"v":0},{"x":152,"y":6,"v":0},{"x":153,"y":6,"v":0},{"x":154,"y":6,"v":0},{"x":155,"y":6,"v":0},{"x":156,"y":6,"v":0},{"x":157,"y":6,"v":0},{"x":158,"y":6,"v":0},{"x":159,"y":6,"v":0},
{"x":0,"y":7,"v":0},{"x":1,"y":7,"v":1},{"x":2,"y":7,"v":0},{"x":3,"y":7,"v":0},{"x":4,"y":7,"v":0},{"x":5,"y":7,"v":0},{"x":6,"y":7,"v":0},{"x":7,"y":7,"v":1},{"x":8,"y":7,"v":1},{"x":9,"y":7,"v":0},
{"x":10,"y":7,"v":1},{"x":11,"y":7,"v":1},{"x":12,"y":7,"v":0},{"x":13,"y":7,"v":1},{"x":14,"y":7,"v":1},{"x":15,"y":7,"v":1},{"x":16,"y":7,"v":1},{"x":17,"y":7,"v":0},{"x":18,"y":7,"v":0},{"x":19,"y":7,"v":1},
{"x":20,"y":7,"v":0},{"x":21,"y":7,"v":1},{"x":22,"y":7,"v":1},{"x":23,"y":7,"v":1},{"x":24,"y":7,"v":1},{"x":25,"y":7,"v":1},{"x":26,"y":7,"v":1},{"x":27,"y":7,"v":1},{"x":28,"y":7,"v":1},{"x":29,"y":7,"v":1},
{"x":30,"y":7,"v":1},{"x":31,"y":7,"v":1},{"x":32,"y":7,"v":1},{"x":33,"y":7,"v":1},{"x":34,"y":7,"v":1},{"x":35,"y":7,"v":1},{"x":36,"y":7,"v":1},{"x":37,"y":7,"v":1},{"x":38,"y":7,"v":1},{"x":39,"y":7,"v":1},
{"x":40,"y":7,"v":1},{"x":41,"y":7,"v":1},{"x":42,"y":7,"v":1},{"x":43,"y":7,"v":1},{"x":44,"y":7,"v":0.15},{"x":45,"y":7,"v":0.78},{"x":46,"y":7,"v":1},{"x":47,"y":7,"v":1},{"x":48,"y":7,"v":1},{"x":49,"y":7,"v":1},
{"x":50,"y":7,"v":1},{"x":51,"y":7,"v":1},{"x":52,"y":7,"v":1},{"x":53,"y":7,"v":1},{"x":54,"y":7,"v":1},{"x":55,"y":7,"v":1},{"x":56,"y":7,"v":1},{"x":57,"y":7,"v":1},{"x":58,"y":7,"v":1},{"x":59,"y":7,"v":1},
{"x":60,"y":7,"v":1},{"x":61,"y":7,"v":1},{"x":62,"y":7,"v":1},{"x":63,"y":7,"v":1},{"x":64,"y":7,"v":1},{"x":65,"y":7,"v":1},{"x":66,"y":7,"v":1},{"x":67,"y":7,"v":1},{"x":68,"y":7,"v":1},{"x":69,"y":7,"v":1},
{"x":70,"y":7,"v":1},{"x":71,"y":7,"v":1},{"x":72,"y":7,"v":1},{"x":73,"y":7,"v":1},{"x":74,"y":7,"v":1},{"x":75,"y":7,"v":1},{"x":76,"y":7,"v":1},{"x":77,"y":7,"v":1},{"x":78,"y":7,"v":1},{"x":79,"y":7,"v":0.49},
{"x":80,"y":7,"v":0.49},{"x":81,"y":7,"v":1},{"x":82,"y":7,"v":1},{"x":83,"y":7,"v":1},{"x":84,"y":7,"v":1},{"x":85,"y":7,"v":1},{"x":86,"y":7,"v":1},{"x":87,"y":7,"v":1},{"x":88,"y":7,"v":1},{"x":89,"y":7,"v":1},
{"x":90,"y":7,"v":1},{"x":91,"y":7,"v":1},{"x":92,"y":7,"v":1},{"x":93,"y":7,"v":1},{"x":94,"y":7,"v":1},{"x":95,"y":7,"v":1},{"x":96,"y":7,"v":1},{"x":97,"y":7,"v":1},{"x":98,"y":7,"v":1},{"x":99,"y":7,"v":1},
{"x":100,"y":7,"v":1},{"x":101,"y":7,"v":1},{"x":102,"y":7,"v":1},{"x":103,"y":7,"v":1},{"x":104,"y":7,"v":1},{"x":105,"y":7,"v":1},{"x":106,"y":7,"v":1},{"x":107,"y":7,"v":1},{"x":108,"y":7,"v":1},{"x":109,"y":7,"v":1},
{"x":110,"y":7,"v":1},{"x":111,"y":7,"v":1},{"x":112,"y":7,"v":1},{"x":113,"y":7,"v":1},{"x":114,"y":7,"v":1},{"x":115,"y":7,"v":1},{"x":116,"y":7,"v":1},{"x":117,"y":7,"v":1},{"x":118,"y":7,"v":1},{"x":119,"y":7,"v":1},
{"x":120,"y":7,"v":1},{"x":121,"y":7,"v":1},{"x":122,"y":7,"v":1},{"x":123,"y":7,"v":1},{"x":124,"y":7,"v":1},{"x":125,"y":7,"v":1},{"x":126,"y":7,"v":1},{"x":127,"y":7,"v":1},{"x":128,"y":7,"v":1},{"x":129,"y":7,"v":1},
{"x":130,"y":7,"v":1},{"x":131,"y":7,"v":1},{"x":132,"y":7,"v":1},{"x":133,"y":7,"v":1},{"x":134,"y":7,"v":1},{"x":135,"y":7,"v":1},{"x":136,"y":7,"v":1},{"x":137,"y":7,"v":1},{"x":138,"y":7,"v":1},{"x":139,"y":7,"v":1},
{"x":140,"y":7,"v":1},{"x":141,"y":7,"v":1},{"x":142,"y":7,"v":1},{"x":143,"y":7,"v":1},{"x":144,"y":7,"v":1},{"x":145,"y":7,"v":1},{"x":146,"y":7,"v":1},{"x":147,"y":7,"v":1},{"x":148,"y":7,"v":1},{"x":149,"y":7,"v":1},
{"x":150,"y":7,"v":1},{"x":151,"y":7,"v":1},{"x":152,"y":7,"v":1},{"x":153,"y":7,"v":1},{"x":154,"y":7,"v":1},{"x":155,"y":7,"v":1},{"x":156,"y":7,"v":1},{"x":157,"y":7,"v":1},{"x":158,"y":7,"v":1},{"x":159,"y":7,"v":1}
]},
"layer":[
{
"mark":{"type":"rect","strokeWidth":1,"opacity":1},
"encoding":{
"x":{"field":"x","type":"ordinal","scale":{"paddingInner":0,"paddingOuter":0,"round":false},
"axis":{"orient":"bottom","title":null,"values":[0,20,40,60,80,100,120,140],"labelAngle":0,"labelFont":"DejaVu Sans","labelFontSize":48,"labelColor":"black","labelPadding":29,"tickColor":"black","tickWidth":2,"tickSize":-15,"domainColor":"black","domainWidth":4,"grid":false,"zindex":1}},
"y":{"field":"y","type":"ordinal","scale":{"paddingInner":0,"paddingOuter":0,"round":false},
"axis":{"orient":"left","title":null,"values":[0,1,2,3,4,5,6,7],"labelFont":"DejaVu Sans","labelFontSize":48,"labelColor":"black","labelPadding":29,"tickColor":"black","tickWidth":2,"tickSize":-15,"domainColor":"black","domainWidth":4,"grid":false,"zindex":1}},
"fill":{"field":"v","type":"quantitative","legend":null,"scale":{"domain":[0,1],"range":["#ffff66","#008066"],"interpolate":"rgb"}},
"stroke":{"field":"v","type":"quantitative","legend":null,"scale":{"domain":[0,1],"range":["#ffff66","#008066"],"interpolate":"rgb"}}
}
},
{
"mark":{"type":"rect","opacity":0},
"encoding":{
"x":{"field":"x","type":"ordinal",
"axis":{"orient":"top","title":null,"values":[0,20,40,60,80,100,120,140],"labels":false,"tickColor":"black","tickWidth":2,"tickSize":-15,"domainColor":"black","domainWidth":4,"grid":false,"zindex":1}},
"y":{"field":"y","type":"ordinal",
"axis":{"orient":"right","title":null,"values":[0,1,2,3,4,5,6,7],"labels":false,"tickColor":"black","tickWidth":2,"tickSize":-15,"domainColor":"black","domainWidth":4,"grid":false,"zindex":1}}
}
}
],
"resolve":{"axis":{"x":"independent","y":"independent"}}
}
